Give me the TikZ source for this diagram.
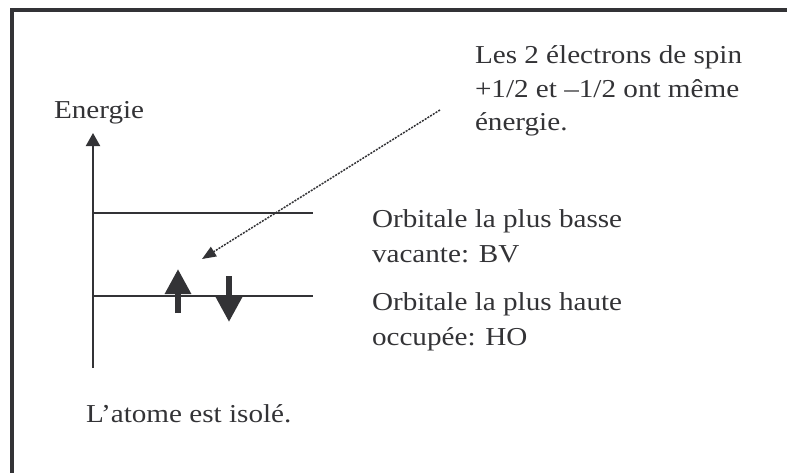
\documentclass[tikz,border=0pt]{standalone}
\usepackage{fontspec}
\setmainfont{Liberation Serif}[FakeStretch=1.13]
\usetikzlibrary{arrows.meta}
\definecolor{ink}{HTML}{333336}
\begin{document}
\begin{tikzpicture}[x=1pt,y=-1pt,
  txt/.style={inner sep=0pt, outer sep=0pt, text=ink, anchor=base west,
    font=\fontsize{25.8}{30}\selectfont},
  frame/.style={draw=ink, line width=4pt, line join=miter},
  axisline/.style={draw=ink, line width=2pt, -{Triangle[width=14pt,length=13pt]}},
  levelline/.style={draw=ink, line width=2pt},
  spinarrow/.style={draw=ink, fill=ink, line width=6pt, -{Triangle[width=25pt,length=25pt]}},
  callout/.style={draw=ink, line width=1.5pt, dash pattern=on 2pt off 1.2pt,
    -{Triangle[width=11pt,length=14pt]}}]
\useasboundingbox (0,0) rectangle (787,472);
% frame (continues beyond the right and bottom edges)
\draw[frame] (12,485) -- (12,10) -- (800,10);
% texts
\node[txt] (energie) at (54,118) {Energie};
\node[txt] (spin1) at (475,63) {Les 2 électrons de spin};
\node[txt] (spin2) at (475,97) {+1/2 et –1/2 ont même};
\node[txt] (spin3) at (475,130) {énergie.};
\node[txt] (bv1) at (372,227) {Orbitale la plus basse};
\node[txt] (bv2) at (372,262) {vacante: BV};
\node[txt] (ho1) at (372,310) {Orbitale la plus haute};
\node[txt] (ho2) at (372,345) {occupée: HO};
\node[txt] (isole) at (86,422) {L’atome est isolé.};
% coordinates
\coordinate (axb) at (93,368);
\coordinate (axt) at (93,133);
\coordinate (bvl) at (93,213);
\coordinate (bvr) at (313,213);
\coordinate (hol) at (93,296);
\coordinate (hor) at (313,296);
\coordinate (upb) at (178,313);
\coordinate (upt) at (178,269);
\coordinate (dnt) at (229,276);
\coordinate (dnb) at (229,322);
\coordinate (cs) at (440,110);
\coordinate (ct) at (202,259);
% drawing
\draw[axisline] (axb) -- (axt);
\draw[levelline] (bvl) -- (bvr);
\draw[levelline] (hol) -- (hor);
\draw[spinarrow] (upb) -- (upt);
\draw[spinarrow] (dnt) -- (dnb);
\draw[callout] (cs) -- (ct);
\end{tikzpicture}
\end{document}
